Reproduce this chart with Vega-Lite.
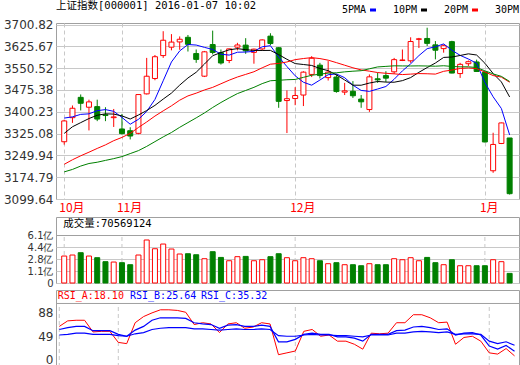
{
  "$schema": "https://vega.github.io/schema/vega-lite/v6.json",
  "background": "#ffffff",
  "padding": {"left": 2, "right": 2, "top": 0, "bottom": 0},
  "config": {
    "view": {"stroke": "#a0a0a0", "strokeWidth": 1},
    "axis": {"labelFont": "DejaVu Sans", "labelFontSize": 12, "labelColor": "#333333", "ticks": false, "domain": false, "labelOverlap": false, "labelSeparation": -40, "labelFlush": false, "labelBound": false},
    "axisY": {"labelOverlap": false, "labelSeparation": -40}
  },
  "datasets": {
    "m": [{"i": 0, "t": "10月"}, {"i": 7, "t": "11月"}, {"i": 28, "t": "12月"}, {"i": 51, "t": "1月"}],
    "k": [
      {"i":0,"d":"2015-10-22","o":3297,"h":3373,"l":3287,"c":3368.74,"v":3.17,"5PMA":3378.56,"10PM":3325.74,"20PM":3219.17,"30PM":3193.13,"ra":66,"rb":61,"rc":52},
      {"i":1,"d":"2015-10-23","o":3380,"h":3422,"l":3362,"c":3412.43,"v":3.31,"5PMA":3382.78,"10PM":3348.66,"20PM":3234.90,"30PM":3201.54,"ra":75,"rb":64,"rc":53},
      {"i":2,"d":"2015-10-26","o":3450,"h":3460,"l":3405,"c":3429.58,"v":3.63,"5PMA":3391.35,"10PM":3362.86,"20PM":3248.55,"30PM":3213.18,"ra":76,"rb":66,"rc":55},
      {"i":3,"d":"2015-10-27","o":3416,"h":3442,"l":3336,"c":3434.34,"v":3.17,"5PMA":3393.15,"10PM":3376.97,"20PM":3260.98,"30PM":3221.98,"ra":76,"rb":66,"rc":55},
      {"i":4,"d":"2015-10-28","o":3418,"h":3442,"l":3368,"c":3375.20,"v":2.94,"5PMA":3404.06,"10PM":3388.24,"20PM":3273.95,"30PM":3226.38,"ra":57,"rb":59,"rc":53},
      {"i":5,"d":"2015-10-29","o":3390,"h":3416,"l":3368,"c":3387.32,"v":2.39,"5PMA":3407.77,"10PM":3393.17,"20PM":3286.18,"30PM":3232.69,"ra":58,"rb":59,"rc":53},
      {"i":6,"d":"2015-10-30","o":3380,"h":3410,"l":3348,"c":3382.56,"v":2.34,"5PMA":3401.80,"10PM":3392.29,"20PM":3300.69,"30PM":3238.77,"ra":58,"rb":59,"rc":53},
      {"i":7,"d":"2015-11-02","o":3341,"h":3393,"l":3322,"c":3325.08,"v":2.25,"5PMA":3380.90,"10PM":3386.13,"20PM":3311.91,"30PM":3245.78,"ra":40,"rb":53,"rc":51},
      {"i":8,"d":"2015-11-03","o":3335,"h":3347,"l":3305,"c":3316.70,"v":1.97,"5PMA":3357.37,"10PM":3375.26,"20PM":3325.84,"30PM":3256.16,"ra":38,"rb":50,"rc":50},
      {"i":9,"d":"2015-11-04","o":3326,"h":3460,"l":3323,"c":3459.64,"v":3.31,"5PMA":3374.26,"10PM":3389.16,"20PM":3346.18,"30PM":3266.41,"ra":72,"rb":60,"rc":54},
      {"i":10,"d":"2015-11-05","o":3462,"h":3586,"l":3460,"c":3522.82,"v":5.39,"5PMA":3401.36,"10PM":3404.57,"20PM":3365.15,"30PM":3280.97,"ra":82,"rb":66,"rc":56},
      {"i":11,"d":"2015-11-06","o":3515,"h":3596,"l":3509,"c":3590.03,"v":4.18,"5PMA":3442.85,"10PM":3422.33,"20PM":3385.50,"30PM":3297.37,"ra":88,"rb":76,"rc":61},
      {"i":12,"d":"2015-11-09","o":3594,"h":3678,"l":3586,"c":3646.88,"v":4.83,"5PMA":3507.21,"10PM":3444.06,"20PM":3403.46,"30PM":3313.72,"ra":93,"rb":80,"rc":63},
      {"i":13,"d":"2015-11-10","o":3623,"h":3668,"l":3612,"c":3640.49,"v":4.14,"5PMA":3571.97,"10PM":3464.67,"20PM":3420.82,"30PM":3328.88,"ra":93,"rb":80,"rc":64},
      {"i":14,"d":"2015-11-11","o":3641,"h":3660,"l":3614,"c":3650.25,"v":3.45,"5PMA":3610.09,"10PM":3492.18,"20PM":3440.21,"30PM":3346.69,"ra":92,"rb":80,"rc":64},
      {"i":15,"d":"2015-11-12","o":3657,"h":3665,"l":3608,"c":3632.90,"v":3.49,"5PMA":3632.11,"10PM":3516.74,"20PM":3454.95,"30PM":3363.03,"ra":89,"rb":79,"rc":64},
      {"i":16,"d":"2015-11-13","o":3601,"h":3615,"l":3569,"c":3580.84,"v":3.35,"5PMA":3630.27,"10PM":3536.56,"20PM":3464.43,"30PM":3379.32,"ra":69,"rb":72,"rc":62},
      {"i":17,"d":"2015-11-16","o":3523,"h":3610,"l":3520,"c":3606.96,"v":2.80,"5PMA":3622.29,"10PM":3564.75,"20PM":3475.44,"30PM":3396.19,"ra":72,"rb":70,"rc":62},
      {"i":18,"d":"2015-11-17","o":3632,"h":3680,"l":3598,"c":3604.80,"v":3.77,"5PMA":3615.15,"10PM":3593.56,"20PM":3484.41,"30PM":3415.08,"ra":70,"rb":69,"rc":61},
      {"i":19,"d":"2015-11-18","o":3604,"h":3615,"l":3563,"c":3568.47,"v":2.98,"5PMA":3598.79,"10PM":3604.44,"20PM":3496.80,"30PM":3432.27,"ra":56,"rb":63,"rc":60},
      {"i":20,"d":"2015-11-19","o":3577,"h":3618,"l":3568,"c":3617.06,"v":2.52,"5PMA":3595.63,"10PM":3613.87,"20PM":3509.22,"30PM":3448.06,"ra":70,"rb":68,"rc":61},
      {"i":21,"d":"2015-11-20","o":3623,"h":3638,"l":3612,"c":3630.50,"v":3.08,"5PMA":3605.56,"10PM":3617.92,"20PM":3520.12,"30PM":3462.97,"ra":72,"rb":69,"rc":62},
      {"i":22,"d":"2015-11-23","o":3630,"h":3654,"l":3600,"c":3610.31,"v":3.12,"5PMA":3606.23,"10PM":3614.26,"20PM":3529.16,"30PM":3473.72,"ra":63,"rb":66,"rc":61},
      {"i":23,"d":"2015-11-24","o":3605,"h":3618,"l":3566,"c":3616.11,"v":2.52,"5PMA":3608.49,"10PM":3611.82,"20PM":3538.25,"30PM":3484.49,"ra":65,"rb":66,"rc":61},
      {"i":24,"d":"2015-11-25","o":3617,"h":3650,"l":3612,"c":3647.93,"v":2.66,"5PMA":3624.38,"10PM":3611.59,"20PM":3551.88,"30PM":3497.34,"ra":72,"rb":68,"rc":62},
      {"i":25,"d":"2015-11-26","o":3661,"h":3671,"l":3630,"c":3635.55,"v":3.08,"5PMA":3628.08,"10PM":3611.85,"20PM":3564.29,"30PM":3507.25,"ra":70,"rb":66,"rc":61},
      {"i":26,"d":"2015-11-27","o":3621,"h":3623,"l":3414,"c":3436.30,"v":3.49,"5PMA":3589.24,"10PM":3597.40,"20PM":3566.98,"30PM":3508.75,"ra":20,"rb":41,"rc":51},
      {"i":27,"d":"2015-11-30","o":3439,"h":3474,"l":3327,"c":3445.40,"v":2.94,"5PMA":3556.26,"10PM":3581.24,"20PM":3572.00,"30PM":3510.71,"ra":23,"rb":41,"rc":50},
      {"i":28,"d":"2015-12-01","o":3446,"h":3485,"l":3423,"c":3456.31,"v":2.52,"5PMA":3524.30,"10PM":3566.39,"20PM":3579.98,"30PM":3511.74,"ra":26,"rb":45,"rc":50},
      {"i":29,"d":"2015-12-02","o":3458,"h":3540,"l":3420,"c":3536.91,"v":2.94,"5PMA":3502.09,"10PM":3563.24,"20PM":3583.84,"30PM":3518.95,"ra":58,"rb":53,"rc":52},
      {"i":30,"d":"2015-12-03","o":3529,"h":3592,"l":3520,"c":3584.82,"v":2.80,"5PMA":3491.95,"10PM":3560.01,"20PM":3586.94,"30PM":3526.15,"ra":61,"rb":55,"rc":53},
      {"i":31,"d":"2015-12-04","o":3561,"h":3569,"l":3515,"c":3524.99,"v":2.52,"5PMA":3509.69,"10PM":3549.46,"20PM":3583.69,"30PM":3529.90,"ra":50,"rb":53,"rc":52},
      {"i":32,"d":"2015-12-07","o":3518,"h":3575,"l":3508,"c":3536.93,"v":2.11,"5PMA":3527.99,"10PM":3542.13,"20PM":3578.19,"30PM":3533.48,"ra":52,"rb":53,"rc":52},
      {"i":33,"d":"2015-12-08","o":3520,"h":3529,"l":3466,"c":3470.07,"v":2.25,"5PMA":3530.74,"10PM":3527.52,"20PM":3569.67,"30PM":3534.67,"ra":42,"rb":49,"rc":51},
      {"i":34,"d":"2015-12-09","o":3468,"h":3500,"l":3458,"c":3472.44,"v":1.97,"5PMA":3517.85,"10PM":3509.97,"20PM":3560.78,"30PM":3537.91,"ra":42,"rb":49,"rc":51},
      {"i":35,"d":"2015-12-10","o":3471,"h":3506,"l":3448,"c":3455.50,"v":1.97,"5PMA":3491.99,"10PM":3491.97,"20PM":3551.91,"30PM":3540.19,"ra":37,"rb":47,"rc":50},
      {"i":36,"d":"2015-12-11","o":3444,"h":3458,"l":3414,"c":3434.58,"v":1.83,"5PMA":3473.90,"10PM":3491.80,"20PM":3544.60,"30PM":3541.92,"ra":29,"rb":42,"rc":49},
      {"i":37,"d":"2015-12-14","o":3408,"h":3529,"l":3400,"c":3520.67,"v":2.11,"5PMA":3470.65,"10PM":3499.32,"20PM":3540.28,"30PM":3548.44,"ra":55,"rb":53,"rc":52},
      {"i":38,"d":"2015-12-15","o":3514,"h":3535,"l":3500,"c":3510.35,"v":1.97,"5PMA":3478.71,"10PM":3504.73,"20PM":3535.56,"30PM":3554.89,"ra":54,"rb":53,"rc":52},
      {"i":39,"d":"2015-12-16","o":3525,"h":3540,"l":3503,"c":3516.19,"v":1.97,"5PMA":3487.46,"10PM":3502.65,"20PM":3532.95,"30PM":3556.78,"ra":55,"rb":53,"rc":52},
      {"i":40,"d":"2015-12-17","o":3538,"h":3586,"l":3531,"c":3580.00,"v":2.80,"5PMA":3512.36,"10PM":3502.17,"20PM":3531.09,"30PM":3558.68,"ra":72,"rb":59,"rc":55},
      {"i":41,"d":"2015-12-18","o":3577,"h":3615,"l":3575,"c":3578.96,"v":2.66,"5PMA":3541.23,"10PM":3507.57,"20PM":3528.52,"30PM":3558.32,"ra":72,"rb":60,"rc":55},
      {"i":42,"d":"2015-12-21","o":3576,"h":3657,"l":3569,"c":3642.47,"v":2.94,"5PMA":3565.59,"10PM":3518.12,"20PM":3530.12,"30PM":3558.17,"ra":85,"rb":65,"rc":57},
      {"i":43,"d":"2015-12-22","o":3650,"h":3655,"l":3620,"c":3651.77,"v":2.52,"5PMA":3593.88,"10PM":3536.29,"20PM":3531.91,"30PM":3558.54,"ra":85,"rb":66,"rc":58},
      {"i":44,"d":"2015-12-23","o":3653,"h":3690,"l":3627,"c":3636.09,"v":2.98,"5PMA":3617.86,"10PM":3552.66,"20PM":3531.32,"30PM":3558.07,"ra":80,"rb":64,"rc":57},
      {"i":45,"d":"2015-12-24","o":3631,"h":3644,"l":3581,"c":3612.49,"v":2.25,"5PMA":3624.36,"10PM":3568.36,"20PM":3530.16,"30PM":3557.39,"ra":72,"rb":61,"rc":56},
      {"i":46,"d":"2015-12-25","o":3618,"h":3632,"l":3604,"c":3627.91,"v":1.97,"5PMA":3634.15,"10PM":3587.69,"20PM":3539.74,"30PM":3558.96,"ra":73,"rb":62,"rc":57},
      {"i":47,"d":"2015-12-28","o":3642,"h":3645,"l":3533,"c":3533.78,"v":2.66,"5PMA":3612.41,"10PM":3589.00,"20PM":3544.16,"30PM":3556.52,"ra":37,"rb":52,"rc":53},
      {"i":48,"d":"2015-12-29","o":3532,"h":3569,"l":3517,"c":3563.74,"v":1.83,"5PMA":3594.80,"10PM":3594.34,"20PM":3549.53,"30PM":3555.15,"ra":48,"rb":55,"rc":54},
      {"i":49,"d":"2015-12-30","o":3566,"h":3577,"l":3558,"c":3572.88,"v":1.83,"5PMA":3582.16,"10PM":3600.01,"20PM":3551.33,"30PM":3555.30,"ra":50,"rb":56,"rc":54},
      {"i":50,"d":"2015-12-31","o":3572,"h":3580,"l":3538,"c":3539.18,"v":1.83,"5PMA":3567.50,"10PM":3595.93,"20PM":3549.05,"30PM":3552.70,"ra":42,"rb":52,"rc":53},
      {"i":51,"d":"2016-01-04","o":3537,"h":3540,"l":3295,"c":3296.26,"v":1.83,"5PMA":3501.17,"10PM":3567.66,"20PM":3537.61,"30PM":3541.56,"ra":23,"rb":34,"rc":42},
      {"i":52,"d":"2016-01-05","o":3197,"h":3328,"l":3190,"c":3287.71,"v":2.66,"5PMA":3451.95,"10PM":3532.18,"20PM":3525.15,"30PM":3530.81,"ra":21,"rb":29,"rc":38},
      {"i":53,"d":"2016-01-06","o":3291,"h":3363,"l":3289,"c":3361.84,"v":2.39,"5PMA":3411.57,"10PM":3503.19,"20PM":3519.74,"30PM":3522.33,"ra":30,"rb":35,"rc":41},
      {"i":54,"d":"2016-01-07","o":3310,"h":3310,"l":3115,"c":3118.00,"v":0.77,"5PMA":3320.60,"10PM":3451.38,"20PM":3502.02,"30PM":3504.67,"ra":18.10,"rb":25.64,"rc":35.32}
    ]
  },
  "bounds": "flush",
  "spacing": 18,
  "resolve": {"scale": {"y": "independent"}},
  "vconcat": [
    {
      "width": 463,
      "height": 176,
      "title": {"text": "上证指数[000001] 2016-01-07 10:02", "anchor": "start", "frame": "group", "font": "DejaVu Sans Mono, Noto Sans CJK SC", "fontSize": 10.5, "fontWeight": "normal", "color": "#000000", "offset": 7},
      "data": {"name": "k"},
      "encoding": {
        "x": {"field": "i", "type": "quantitative", "title": null,
          "scale": {"domain": [-0.39, 54.53], "nice": false, "zero": false},
          "axis": {"values": [0, 7, 28, 51], "labels": false, "grid": true, "gridDash": [4, 3], "gridColor": "#c8c8c8"}}
      },
      "layer": [
        {
          "mark": {"type": "rule", "strokeWidth": 1},
          "encoding": {
            "y": {"field": "l", "type": "quantitative", "title": null,
              "scale": {"domain": [3099.64, 3706.3], "nice": false, "zero": false},
              "axis": {"values": [3099.64, 3174.79, 3249.94, 3325.08, 3400.23, 3475.38, 3550.52, 3625.67, 3700.82], "format": ".2f", "grid": true, "gridColor": "#c8c8c8", "labelPadding": 3, "labelOverlap": false, "labelSeparation": -40}},
            "y2": {"field": "h"},
            "color": {"condition": {"test": "datum.c >= datum.o", "value": "#ff0000"}, "value": "#008000"}
          }
        },
        {
          "mark": {"type": "bar", "size": 5, "strokeWidth": 1},
          "encoding": {
            "y": {"field": "o", "type": "quantitative", "title": null,
              "axis": {"values": [3099.64, 3174.79, 3249.94, 3325.08, 3400.23, 3475.38, 3550.52, 3625.67, 3700.82], "format": ".2f", "grid": true, "gridColor": "#c8c8c8", "labelPadding": 3, "labelOverlap": false, "labelSeparation": -40}},
            "y2": {"field": "c"},
            "fill": {"condition": {"test": "datum.c >= datum.o", "value": "#ffffff"}, "value": "#008000"},
            "stroke": {"condition": {"test": "datum.c >= datum.o", "value": "#ff0000"}, "value": "#008000"}
          }
        },
        {
          "transform": [{"fold": ["5PMA", "10PM", "20PM", "30PM"], "as": ["ma", "val"]}],
          "mark": {"type": "line", "strokeWidth": 1},
          "encoding": {
            "y": {"field": "val", "type": "quantitative", "title": null,
              "axis": {"values": [3099.64, 3174.79, 3249.94, 3325.08, 3400.23, 3475.38, 3550.52, 3625.67, 3700.82], "format": ".2f", "grid": true, "gridColor": "#c8c8c8", "labelPadding": 3, "labelOverlap": false, "labelSeparation": -40}},
            "color": {"field": "ma", "type": "nominal",
              "scale": {"domain": ["5PMA", "10PM", "20PM", "30PM"], "range": ["#0000ff", "#000000", "#ff0000", "#008000"]},
              "legend": {"orient": "none", "legendX": 285, "legendY": -18, "direction": "horizontal", "title": null, "symbolType": "stroke", "symbolSize": 36, "symbolStrokeWidth": 3, "labelFont": "DejaVu Sans Mono", "labelFontSize": 10, "labelColor": "#000000", "symbolOffset": 27, "labelOffset": -36, "columnPadding": 10, "padding": 0}}
          }
        },
        {
          "data": {"name": "m"},
          "mark": {"type": "text", "align": "left", "baseline": "top", "dx": -5, "dy": 4, "font": "Noto Sans CJK SC", "fontSize": 12, "color": "#ff0000"},
          "encoding": {
            "y": {"datum": 3099.64, "type": "quantitative", "title": null,
              "axis": {"values": [3099.64, 3174.79, 3249.94, 3325.08, 3400.23, 3475.38, 3550.52, 3625.67, 3700.82], "format": ".2f", "grid": true, "gridColor": "#c8c8c8", "labelPadding": 3, "labelOverlap": false, "labelSeparation": -40}},
            "text": {"field": "t"}
          }
        }
      ]
    },
    {
      "bounds": "flush",
      "spacing": 7,
      "resolve": {"scale": {"y": "independent"}},
      "vconcat": [
        {
          "width": 463,
          "height": 66,
          "data": {"name": "k"},
          "layer": [
            {
              "data": {"name": "m"},
              "mark": {"type": "rule", "color": "#c8c8c8", "strokeDash": [4, 3]},
              "encoding": {
                "x": {"field": "i", "type": "quantitative", "axis": null, "scale": {"domain": [-0.39, 54.53], "nice": false, "zero": false}},
                "y": {"datum": -0.56, "type": "quantitative", "title": null,
                  "scale": {"domain": [-0.56, 8.57], "nice": false, "zero": false},
                  "axis": {"values": [-0.56, 1.1, 2.76, 4.42, 6.08], "labelExpr": "datum.value < 0 ? '0' : format(datum.value, '.1f') + '亿'", "labelFontSize": 10, "grid": true, "gridColor": {"condition": {"test": "datum.value > 6", "value": "#a0a0a0"}, "value": "#c8c8c8"}, "labelPadding": 3, "labelOverlap": false, "labelSeparation": -40}},
                "y2": {"datum": 6.08}
              }
            },
            {
              "mark": {"type": "bar", "size": 5, "strokeWidth": 1},
              "encoding": {
                "x": {"field": "i", "type": "quantitative", "axis": null, "scale": {"domain": [-0.39, 54.53], "nice": false, "zero": false}},
                "y": {"field": "v", "type": "quantitative", "title": null,
                  "scale": {"domain": [-0.56, 8.57], "nice": false, "zero": false},
                  "axis": {"values": [-0.56, 1.1, 2.76, 4.42, 6.08], "labelExpr": "datum.value < 0 ? '0' : format(datum.value, '.1f') + '亿'", "labelFontSize": 10, "grid": true, "gridColor": {"condition": {"test": "datum.value > 6", "value": "#a0a0a0"}, "value": "#c8c8c8"}, "labelPadding": 3, "labelOverlap": false, "labelSeparation": -40}},
                "y2": {"datum": -0.56},
                "fill": {"condition": {"test": "datum.c >= datum.o", "value": "#ffffff"}, "value": "#008000"},
                "stroke": {"condition": {"test": "datum.c >= datum.o", "value": "#ff0000"}, "value": "#008000"}
              }
            },
            {
              "data": {"values": [{"t": "成交量:70569124"}]},
              "mark": {"type": "text", "align": "left", "baseline": "middle", "font": "DejaVu Sans Mono, Noto Sans CJK SC", "fontSize": 10.5, "color": "#000000"},
              "encoding": {
                "x": {"datum": -0.12},
                "y": {"datum": 7.64, "type": "quantitative", "title": null,
                  "axis": {"values": [-0.56, 1.1, 2.76, 4.42, 6.08], "labelExpr": "datum.value < 0 ? '0' : format(datum.value, '.1f') + '亿'", "labelFontSize": 10, "grid": true, "gridColor": {"condition": {"test": "datum.value > 6", "value": "#a0a0a0"}, "value": "#c8c8c8"}, "labelPadding": 3, "labelOverlap": false, "labelSeparation": -40}},
                "text": {"field": "t"}
              }
            }
          ]
        },
        {
          "width": 463,
          "height": 77,
          "data": {"name": "k"},
          "layer": [
            {
              "data": {"name": "m"},
              "mark": {"type": "rule", "color": "#c8c8c8", "strokeDash": [4, 3]},
              "encoding": {
                "x": {"field": "i", "type": "quantitative", "axis": null, "scale": {"domain": [-0.39, 54.53], "nice": false, "zero": false}},
                "y": {"datum": 0, "type": "quantitative", "title": null, "scale": {"domain": [0, 125.2], "nice": false, "zero": false},
                  "axis": {"values": [0, 49, 88], "grid": false, "labelPadding": 3, "labelOverlap": false, "labelSeparation": -40, "labelOffset": {"condition": {"test": "datum.value == 0", "value": -8}, "value": 0}}},
                "y2": {"datum": 103.3}
              }
            },
            {
              "data": {"values": [{"t": "divider"}]},
              "mark": {"type": "rule", "color": "#a0a0a0"},
              "encoding": {"y": {"datum": 103.3, "type": "quantitative", "title": null,
                  "axis": {"values": [0, 49, 88], "grid": false, "labelPadding": 3, "labelOverlap": false, "labelSeparation": -40, "labelOffset": {"condition": {"test": "datum.value == 0", "value": -8}, "value": 0}}}}
            },
            {
              "mark": {"type": "line", "color": "#ff0000", "strokeWidth": 1},
              "encoding": {
                "x": {"field": "i", "type": "quantitative", "axis": null, "scale": {"domain": [-0.39, 54.53], "nice": false, "zero": false}},
                "y": {"field": "ra", "type": "quantitative", "title": null,
                  "axis": {"values": [0, 49, 88], "grid": false, "labelPadding": 3, "labelOverlap": false, "labelSeparation": -40, "labelOffset": {"condition": {"test": "datum.value == 0", "value": -8}, "value": 0}}}
              }
            },
            {
              "mark": {"type": "line", "color": "#0000ff", "strokeWidth": 1.2},
              "encoding": {
                "x": {"field": "i", "type": "quantitative", "axis": null, "scale": {"domain": [-0.39, 54.53], "nice": false, "zero": false}},
                "y": {"field": "rb", "type": "quantitative", "title": null,
                  "axis": {"values": [0, 49, 88], "grid": false, "labelPadding": 3, "labelOverlap": false, "labelSeparation": -40, "labelOffset": {"condition": {"test": "datum.value == 0", "value": -8}, "value": 0}}}
              }
            },
            {
              "mark": {"type": "line", "color": "#0000ff", "strokeWidth": 1.2},
              "encoding": {
                "x": {"field": "i", "type": "quantitative", "axis": null, "scale": {"domain": [-0.39, 54.53], "nice": false, "zero": false}},
                "y": {"field": "rc", "type": "quantitative", "title": null,
                  "axis": {"values": [0, 49, 88], "grid": false, "labelPadding": 3, "labelOverlap": false, "labelSeparation": -40, "labelOffset": {"condition": {"test": "datum.value == 0", "value": -8}, "value": 0}}}
              }
            },
            {
              "data": {"values": [{"t": "RSI_A:18.10"}]},
              "mark": {"type": "text", "align": "left", "baseline": "middle", "font": "DejaVu Sans Mono", "fontSize": 10, "color": "#ff0000"},
              "encoding": {"x": {"datum": -0.19}, "y": {"datum": 115, "type": "quantitative", "title": null,
                  "axis": {"values": [0, 49, 88], "grid": false, "labelPadding": 3, "labelOverlap": false, "labelSeparation": -40, "labelOffset": {"condition": {"test": "datum.value == 0", "value": -8}, "value": 0}}}, "text": {"field": "t"}}
            },
            {
              "data": {"values": [{"t": "RSI_B:25.64"}]},
              "mark": {"type": "text", "align": "left", "baseline": "middle", "font": "DejaVu Sans Mono", "fontSize": 10, "color": "#0000ff"},
              "encoding": {"x": {"datum": 8.39}, "y": {"datum": 115, "type": "quantitative", "title": null,
                  "axis": {"values": [0, 49, 88], "grid": false, "labelPadding": 3, "labelOverlap": false, "labelSeparation": -40, "labelOffset": {"condition": {"test": "datum.value == 0", "value": -8}, "value": 0}}}, "text": {"field": "t"}}
            },
            {
              "data": {"values": [{"t": "RSI_C:35.32"}]},
              "mark": {"type": "text", "align": "left", "baseline": "middle", "font": "DejaVu Sans Mono", "fontSize": 10, "color": "#0000ff"},
              "encoding": {"x": {"datum": 16.81}, "y": {"datum": 115, "type": "quantitative", "title": null,
                  "axis": {"values": [0, 49, 88], "grid": false, "labelPadding": 3, "labelOverlap": false, "labelSeparation": -40, "labelOffset": {"condition": {"test": "datum.value == 0", "value": -8}, "value": 0}}}, "text": {"field": "t"}}
            }
          ]
        }
      ]
    }
  ]
}
